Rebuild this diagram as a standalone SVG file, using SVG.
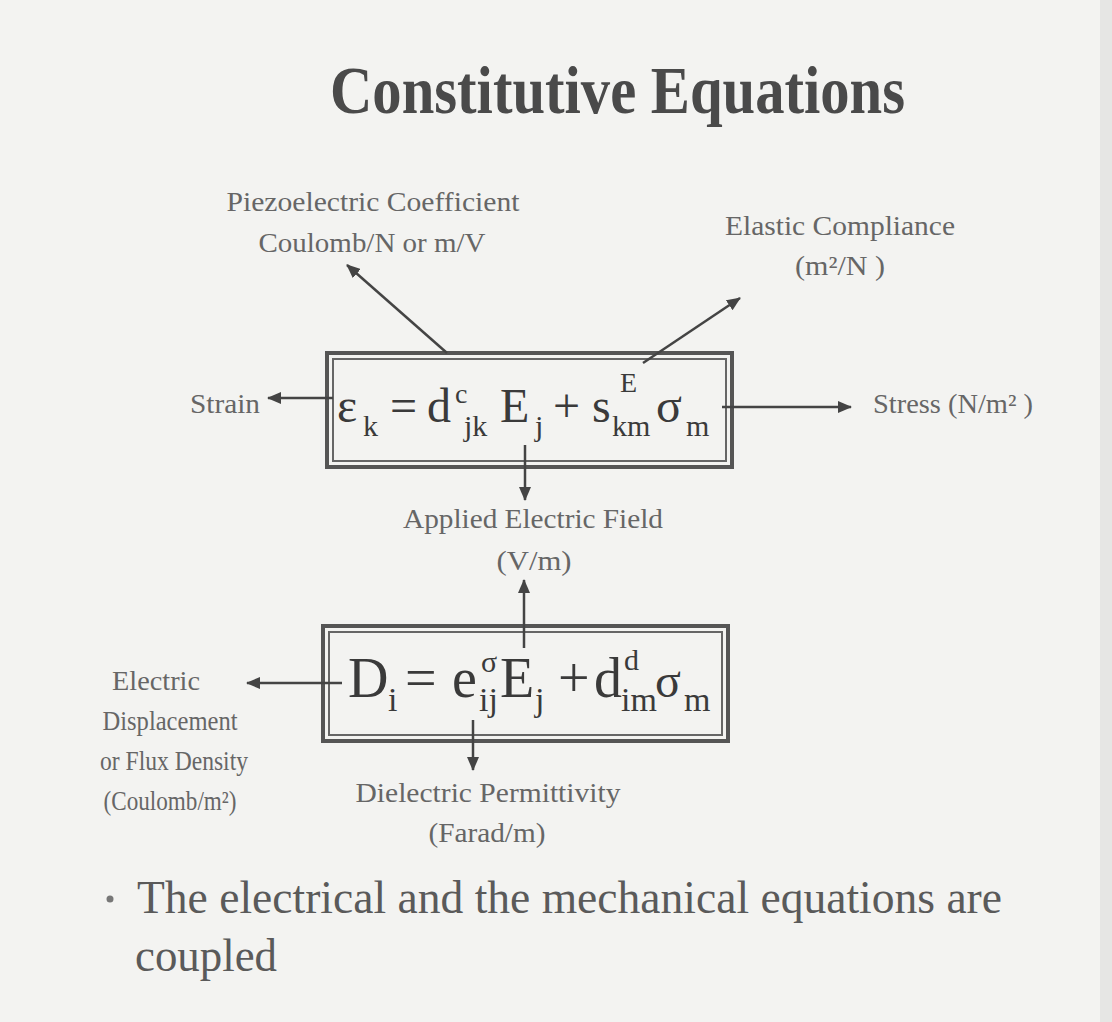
<svg xmlns="http://www.w3.org/2000/svg" width="1112" height="1022" viewBox="0 0 1112 1022">
<defs>
<marker id="ah" viewBox="0 0 14 12" refX="13" refY="6" markerWidth="14" markerHeight="12" markerUnits="userSpaceOnUse" orient="auto">
<path d="M0,0 L14,6 L0,12 Z" fill="#444"/>
</marker>
</defs>
<style>
.lbl{font-family:"Liberation Serif","Times New Roman",serif;fill:#666;font-size:27px}
.eq{font-family:"Liberation Serif","Times New Roman",serif;fill:#3a3a3a}
.con{stroke:#444;stroke-width:2.5;fill:none;marker-end:url(#ah)}
.bo{fill:none;stroke:#555;stroke-width:4}
.bi{fill:none;stroke:#666;stroke-width:2}
</style>
<rect width="1112" height="1022" fill="#f3f3f1"/>
<rect x="1100" y="0" width="12" height="1022" fill="#e6e6e4"/>
<g id="title">
<text x="330" y="113" font-family="'Liberation Serif','Times New Roman',serif" font-weight="bold" font-size="68" fill="#4a4a4a" textLength="575" lengthAdjust="spacingAndGlyphs">Constitutive Equations</text>
</g>
<g id="eq1">
<rect class="bo" x="327" y="353" width="405" height="114"/>
<rect class="bi" x="333" y="359" width="393" height="102"/>
<text class="eq" font-size="48">
<tspan x="337" y="422">ε</tspan><tspan x="363" y="436" font-size="30">k</tspan><tspan x="390" y="422">=</tspan><tspan x="427" y="422">d</tspan><tspan x="455" y="403" font-size="28">c</tspan><tspan x="464" y="436" font-size="30">jk</tspan><tspan x="500" y="422">E</tspan><tspan x="535" y="436" font-size="30">j</tspan><tspan x="553" y="422">+</tspan><tspan x="592" y="422">s</tspan><tspan x="620" y="392" font-size="28">E</tspan><tspan x="612" y="436" font-size="30">km</tspan><tspan x="656" y="422">σ</tspan><tspan x="686" y="436" font-size="30">m</tspan>
</text>
</g>
<g id="eq2">
<rect class="bo" x="323" y="626" width="405" height="115"/>
<rect class="bi" x="329" y="632" width="393" height="103"/>
<text class="eq" font-size="56">
<tspan x="348" y="697">D</tspan><tspan x="388" y="711" font-size="34">i</tspan><tspan x="405" y="697">=</tspan><tspan x="452" y="697">e</tspan><tspan x="481" y="672" font-size="30">σ</tspan><tspan x="479" y="711" font-size="34">ij</tspan><tspan x="500" y="697">E</tspan><tspan x="535" y="711" font-size="34">j</tspan><tspan x="558" y="697">+</tspan><tspan x="594" y="697">d</tspan><tspan x="624" y="670" font-size="30">d</tspan><tspan x="621" y="711" font-size="34">im</tspan><tspan x="655" y="697" font-size="48">σ</tspan><tspan x="684" y="711" font-size="34">m</tspan>
</text>
</g>
<g id="piezo">
<text class="lbl" x="373" y="211" text-anchor="middle" textLength="293" lengthAdjust="spacingAndGlyphs">Piezoelectric Coefficient</text>
<text class="lbl" x="372" y="252" text-anchor="middle" textLength="227" lengthAdjust="spacingAndGlyphs">Coulomb/N or m/V</text>
</g>
<g id="elastic">
<text class="lbl" x="840" y="235" text-anchor="middle" textLength="230" lengthAdjust="spacingAndGlyphs">Elastic Compliance</text>
<text class="lbl" x="840" y="275" text-anchor="middle" textLength="90" lengthAdjust="spacingAndGlyphs">(m²/N )</text>
</g>
<g id="strain">
<text class="lbl" x="190" y="413" textLength="70" lengthAdjust="spacingAndGlyphs">Strain</text>
</g>
<g id="stress">
<text class="lbl" x="873" y="413" textLength="160" lengthAdjust="spacingAndGlyphs">Stress (N/m² )</text>
</g>
<g id="field">
<text class="lbl" x="533" y="528" text-anchor="middle" textLength="260" lengthAdjust="spacingAndGlyphs">Applied Electric Field</text>
<text class="lbl" x="534" y="570" text-anchor="middle" textLength="75" lengthAdjust="spacingAndGlyphs">(V/m)</text>
</g>
<g id="displacement">
<text class="lbl" x="156" y="690" text-anchor="middle" textLength="88" lengthAdjust="spacingAndGlyphs">Electric</text>
<text class="lbl" x="170" y="730" text-anchor="middle" textLength="135" lengthAdjust="spacingAndGlyphs">Displacement</text>
<text class="lbl" x="174" y="770" text-anchor="middle" textLength="148" lengthAdjust="spacingAndGlyphs">or Flux Density</text>
<text class="lbl" x="170" y="810" text-anchor="middle" textLength="133" lengthAdjust="spacingAndGlyphs">(Coulomb/m²)</text>
</g>
<g id="permittivity">
<text class="lbl" x="488" y="802" text-anchor="middle" textLength="265" lengthAdjust="spacingAndGlyphs">Dielectric Permittivity</text>
<text class="lbl" x="487" y="842" text-anchor="middle" textLength="117" lengthAdjust="spacingAndGlyphs">(Farad/m)</text>
</g>
<g id="bullet">
<circle cx="110" cy="899" r="3.5" fill="#777"/>
<text x="137" y="913" font-family="'Liberation Serif','Times New Roman',serif" font-size="46" fill="#5a5a5a" textLength="865" lengthAdjust="spacingAndGlyphs">The electrical and the mechanical equations are</text>
<text x="135" y="971" font-family="'Liberation Serif','Times New Roman',serif" font-size="46" fill="#5a5a5a" textLength="142" lengthAdjust="spacingAndGlyphs">coupled</text>
</g>
<g id="connectors">
<line class="con" x1="447" y1="353" x2="347" y2="265"/>
<line class="con" x1="643" y1="363" x2="740" y2="298"/>
<line class="con" x1="333" y1="398" x2="268" y2="398"/>
<line class="con" x1="722" y1="407" x2="851" y2="407"/>
<line class="con" x1="525" y1="445" x2="525" y2="500"/>
<line class="con" x1="524" y1="648" x2="524" y2="580"/>
<line class="con" x1="342" y1="683" x2="247" y2="683"/>
<line class="con" x1="473" y1="720" x2="473" y2="770"/>
</g>
</svg>
